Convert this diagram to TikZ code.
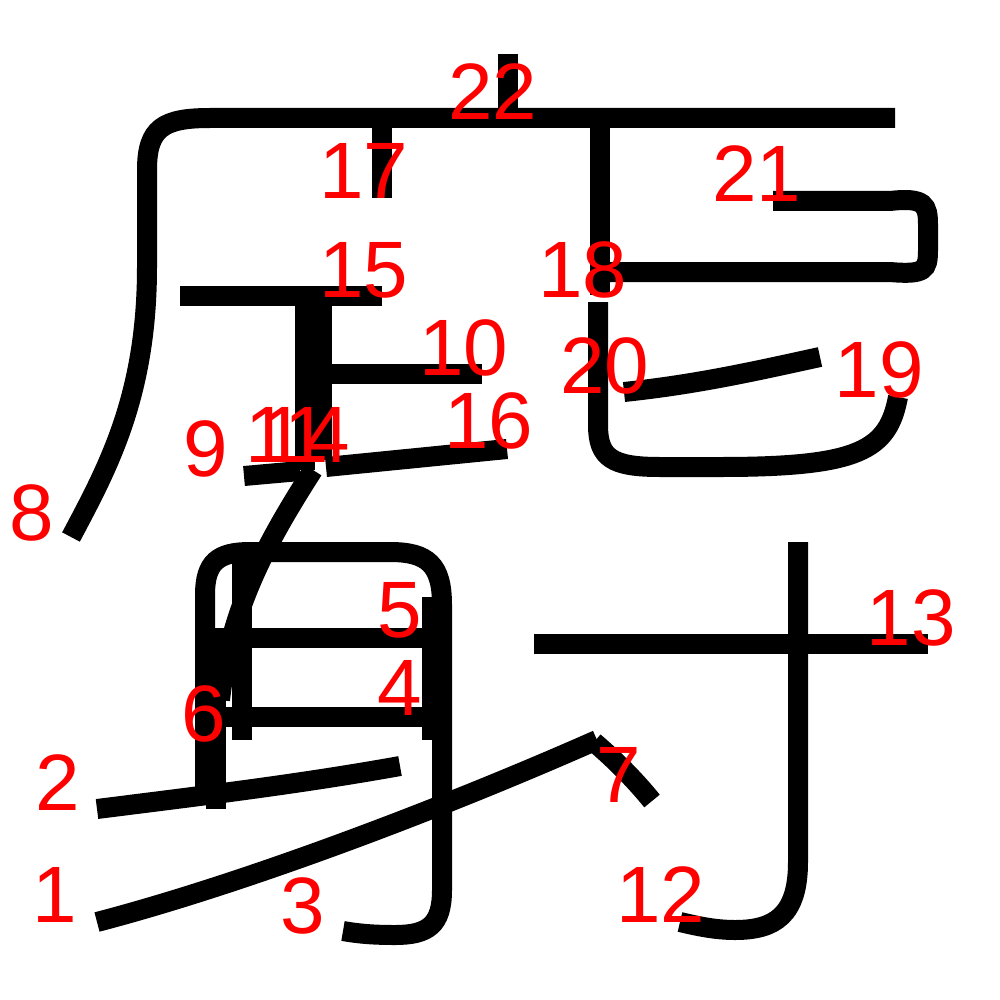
\documentclass[tikz,border=0pt]{standalone}
\usepackage{fontspec}
\setmainfont{Liberation Sans}
\begin{document}
\begin{tikzpicture}[x=1pt,y=-1pt,
  strk/.style={line width=20pt},
  num/.style={text=red,anchor=base,inner sep=0pt,font=\fontsize{80}{80}\selectfont}]
\useasboundingbox (0,0) rectangle (1000,1000);
\draw[strk] (97,922) .. controls (250,882) and (450,805) .. (597,740);
\draw[strk] (97,809) .. controls (200,796) and (300,784) .. (400,766);
\draw[strk] (205,795) -- (205,595) .. controls (205,562) and (218,552) .. (250,552) -- (390,552) .. controls (428,552) and (442,565) .. (442,605) -- (442,890) .. controls (442,925) and (428,935) .. (395,935) .. controls (375,935) and (360,934) .. (343,931);
\draw[strk] (226,717) -- (432,717);
\draw[strk] (213,638) -- (422,638);
\draw[strk] (242,560) -- (242,740);
\draw[strk] (432,597) -- (432,740);
\draw[strk] (216,628) -- (216,809);
\draw[strk] (594,742) .. controls (615,760) and (635,780) .. (652,801);
\draw[strk] (895,118) -- (210,118) .. controls (163,118) and (147,128) .. (147,170) -- (147,267) .. controls (147,397) and (107,469) .. (71,537);
\draw[strk] (244,476) -- (300,471);
\draw[strk] (322,374) -- (482,374);
\draw[strk] (305,296) -- (305,470);
\draw[strk] (313,470) .. controls (265,545) and (230,610) .. (220,700);
\draw[strk] (798,542) -- (798,862) .. controls (798,915) and (775,930) .. (735,930) .. controls (715,930) and (697,926) .. (680,922);
\draw[strk] (534,644) -- (928,644);
\draw[strk] (322,296) -- (322,460);
\draw[strk] (180,296) -- (382,296);
\draw[strk] (326,467) -- (507,449);
\draw[strk] (382,118) -- (382,198);
\draw[strk] (600,118) -- (600,295);
\draw[strk] (598,302) -- (598,425) .. controls (598,458) and (612,467) .. (660,467) -- (720,467) .. controls (860,467) and (888,450) .. (898,397);
\draw[strk] (624,392) .. controls (700,384) and (760,370) .. (820,357);
\draw[strk] (773,201) -- (890,201) .. controls (925,197) and (928,205) .. (928,225) -- (928,250) .. controls (928,270) and (925,275) .. (890,272) -- (609,272);
\draw[strk] (508,54) -- (508,118);
\node[num] (n1) at (55,922) {1};
\node[num] (n2) at (58,810) {2};
\node[num] (n3) at (303,933) {3};
\node[num] (n4) at (400,715) {4};
\node[num] (n5) at (400,637) {5};
\node[num] (n6) at (204,741) {6};
\node[num] (n7) at (619,802) {7};
\node[num] (n8) at (32,540) {8};
\node[num] (n9) at (206,476) {9};
\node[num] (n10) at (464,375) {10};
\node[num] (n11) at (287,462) {11};
\node[num] (n12) at (661,922) {12};
\node[num] (n13) at (911,645) {13};
\node[num] (n14) at (306,462) {14};
\node[num] (n15) at (364,297) {15};
\node[num] (n16) at (489,448) {16};
\node[num] (n17) at (364,199) {17};
\node[num] (n18) at (583,297) {18};
\node[num] (n19) at (879,397) {19};
\node[num] (n20) at (605,393) {20};
\node[num] (n21) at (757,202) {21};
\node[num] (n22) at (493,120) {22};
\end{tikzpicture}
\end{document}
